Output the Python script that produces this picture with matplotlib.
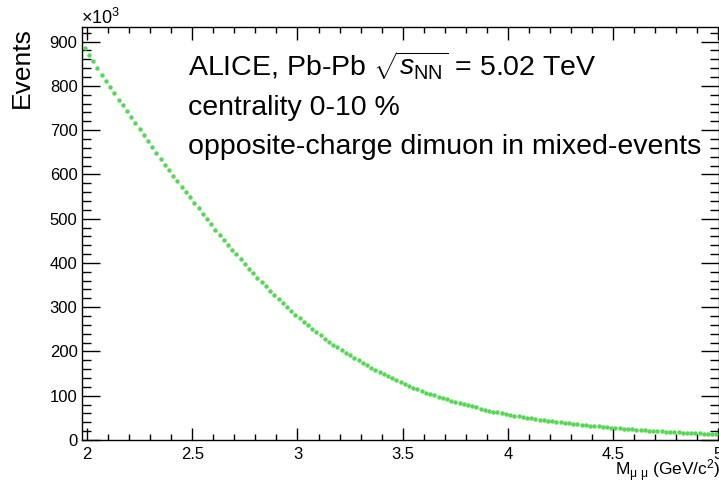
import numpy as np
import matplotlib
matplotlib.use("Agg")
import matplotlib.pyplot as plt
from matplotlib.ticker import MultipleLocator

plt.rcParams['font.family'] = ['Liberation Sans', 'DejaVu Sans']
plt.rcParams['mathtext.fontset'] = 'custom'
plt.rcParams['mathtext.rm'] = 'Liberation Sans'
plt.rcParams['mathtext.it'] = 'Liberation Sans:italic'
plt.rcParams['mathtext.bf'] = 'Liberation Sans:bold'

# Bin grid (dimuon invariant mass, GeV/c^2), bin width 0.02
mass = np.round(np.arange(1.99, 5.0, 0.02), 3)

# Events (x10^3)
events_k = [
    885.8,
    870.3, 855.1, 840.2, 825.5, 811.2,
    796.9, 783.0, 769.2, 755.8, 742.5,
    729.0, 715.2, 701.7, 688.5, 675.4,
    662.1, 648.5, 635.1, 622.1, 609.3,
    596.7, 584.3, 572.2, 560.4, 548.7,
    536.5, 523.6, 511.1, 498.8, 486.9,
    475.1, 463.5, 452.1, 441.1, 430.3,
    419.4, 408.4, 397.6, 387.2, 377.0,
    366.9, 356.9, 347.2, 337.7, 328.5,
    319.2, 309.8, 300.7, 291.8, 283.2,
    274.8, 266.7, 258.8, 251.1, 243.6,
    236.4, 229.2, 222.3, 215.7, 209.2,
    202.9, 196.8, 191.0, 185.2, 179.7,
    174.2, 168.8, 163.5, 158.4, 153.4,
    148.5, 143.7, 139.0, 134.5, 130.1,
    126.0, 122.0, 118.1, 114.4, 110.8,
    107.3, 104.1, 101.0, 97.9, 94.9,
    92.1, 89.2, 86.5, 83.8, 81.3,
    78.7, 76.0, 73.5, 71.0, 68.7,
    66.4, 64.3, 62.3, 60.3, 58.4,
    56.6, 55.0, 53.4, 51.8, 50.2,
    48.8, 47.3, 45.9, 44.5, 43.2,
    41.9, 40.8, 39.7, 38.6, 37.5,
    36.5, 35.4, 34.4, 33.4, 32.5,
    31.5, 30.5, 29.6, 28.6, 27.7,
    26.9, 26.1, 25.4, 24.7, 23.9,
    23.3, 22.6, 21.9, 21.3, 20.7,
    20.1, 19.5, 18.9, 18.4, 17.9,
    17.3, 16.8, 16.4, 15.9, 15.4,
    15.0, 14.5, 14.1, 13.7, 13.3,
]

x_ticks = [2, 2.5, 3, 3.5, 4, 4.5, 5]
x_tick_labels = ["2", "2.5", "3", "3.5", "4", "4.5", "5"]
y_ticks = [0, 100, 200, 300, 400, 500, 600, 700, 800, 900]
y_tick_labels = [str(v) for v in y_ticks]

W, H = 719, 484
fig = plt.figure(figsize=(W / 100, H / 100), dpi=100)
L, R, T, B = 81.7, 718.5, 27, 440
ax = fig.add_axes([L / W, 1 - B / H, (R - L) / W, (B - T) / H])

ax.plot(mass, events_k, linestyle='none', marker='o', markersize=3.2,
        markeredgewidth=0, color='#55d955')

ax.set_xlim(1.975, 5.0)
ax.set_ylim(0, 933)

ax.set_xticks(x_ticks)
ax.set_xticklabels(x_tick_labels)
ax.set_yticks(y_ticks)
ax.set_yticklabels(y_tick_labels)
ax.xaxis.set_minor_locator(MultipleLocator(0.1))
ax.yaxis.set_minor_locator(MultipleLocator(20))

ax.tick_params(axis='both', which='both', direction='in', top=True, right=True,
               colors='black', width=1.0, labelsize=12)
ax.tick_params(axis='x', which='major', length=9, pad=5)
ax.tick_params(axis='x', which='minor', length=4.5)
ax.tick_params(axis='y', which='major', length=13, pad=3)
ax.tick_params(axis='y', which='minor', length=6.5)
for s in ax.spines.values():
    s.set_linewidth(1.0)

def px(x, y):
    return x / W, 1 - y / H

fig.text(*px(22, 27), "Events", rotation=90, ha='center', va='top', fontsize=19)
fig.text(*px(81, 24), r"$\times$10$^{3}$", ha='left', va='baseline', fontsize=13)
fig.text(*px(720, 476), r"M$_{\mathrm{\mu\ \mu}}$ (GeV/c$^{2}$)", ha='right',
         va='baseline', fontsize=12.5)

lines = [r"ALICE, Pb-Pb $\sqrt{s_{\rm NN}}$ = 5.02 TeV",
         "centrality 0-10 %",
         "opposite-charge dimuon in mixed-events"]
for i, t in enumerate(lines):
    fig.text(*px(188, 76 + 39 * i), t, ha='left', va='baseline', fontsize=20.5)

fig.savefig("out.png", dpi=100)
